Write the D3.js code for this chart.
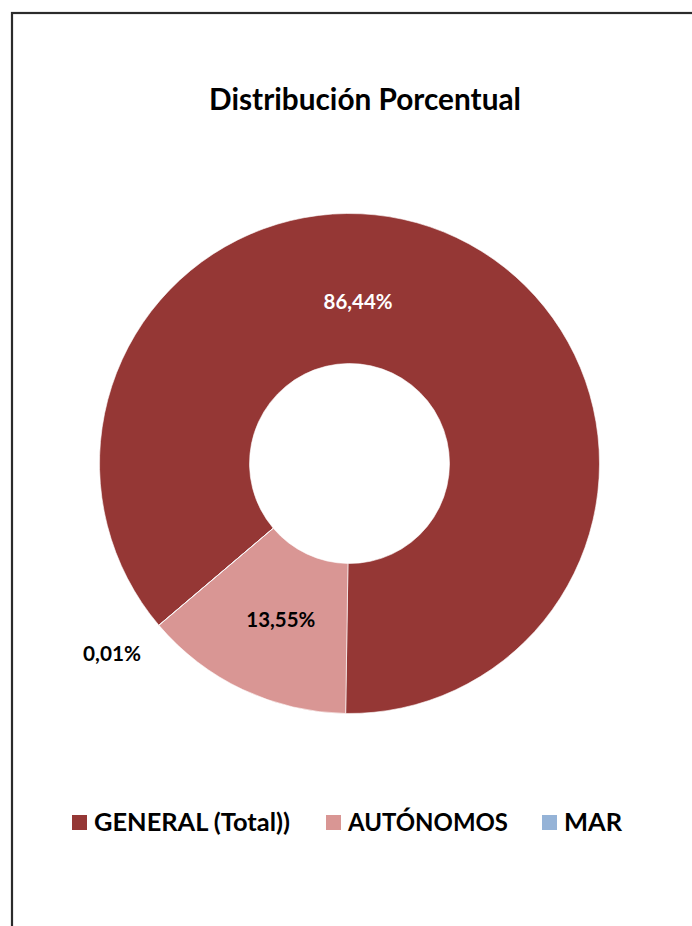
<!DOCTYPE html>
<html><head><meta charset="utf-8">
<script src="https://cdn.jsdelivr.net/npm/d3@7/dist/d3.min.js"></script>
<style>html,body{margin:0;padding:0;background:#fff;overflow:hidden}</style>
</head><body>
<svg id="chart" width="692" height="926"></svg>
<script>
const title = "Distribución Porcentual";
const categories = ["GENERAL (Total))", "AUTÓNOMOS", "MAR"];
const values = [86.44, 13.55, 0.01];
const valueLabels = ["86,44%", "13,55%", "0,01%"];
const colors = ["#953735", "#D99694", "#95B3D7"];

const FONT = "Lato, 'Open Sans', sans-serif";
const svg = d3.select("#chart");

function fit(sel, target) {
  const n = sel.node();
  const fs = parseFloat(sel.attr("font-size"));
  const w = n.getComputedTextLength();
  sel.attr("font-size", fs * target / w);
}

// frame
svg.append("rect").attr("x", 12).attr("y", 13).attr("width", 720).attr("height", 1000)
  .attr("fill", "#fff").attr("stroke", "#2b2b2b").attr("stroke-width", 2.2);

// title
const t = svg.append("text").attr("x", 365).attr("y", 110).attr("text-anchor", "middle")
  .attr("font-family", FONT).attr("font-weight", "bold").attr("font-size", 24)
  .attr("fill", "#000").text(title);
fit(t, 312);

// donut
const cx = 349.5, cy = 463.5, R = 250, r0 = 100;
const startDeg = 229.7;
const pie = d3.pie().sort(null).value(d => d)
  .startAngle(startDeg * Math.PI / 180).endAngle((startDeg + 360) * Math.PI / 180);
const arcs = pie(values);
const arc = d3.arc().innerRadius(r0).outerRadius(R);
const g = svg.append("g").attr("transform", `translate(${cx},${cy})`);
g.selectAll("path").data(arcs).enter().append("path")
  .attr("d", arc).attr("fill", (d, i) => colors[i])
  .attr("stroke", "#fff").attr("stroke-width", 0.6);

// data labels
const labelColors = ["#fff", "#000", "#000"];
const labelWidths = [69, 69, 58];
function labelPos(d, i) {
  if (i === 0) { // Excel shifts the big slice label toward the top
    const a = 3 * Math.PI / 180, rr = 162.5;
    return [rr * Math.sin(a), -rr * Math.cos(a)];
  }
  if (i === 2) { // tiny slice label placed outside
    const a = (d.startAngle + d.endAngle) / 2 + 1.7 * Math.PI / 180, rr = 304;
    return [rr * Math.sin(a), -rr * Math.cos(a)];
  }
  const c = d3.arc().innerRadius((r0 + R) / 2).outerRadius((r0 + R) / 2).centroid(d);
  return [c[0] + 6, c[1] - 3];
}
arcs.forEach((d, i) => {
  const p = labelPos(d, i);
  const tx = g.append("text").attr("x", p[0]).attr("y", p[1])
    .attr("text-anchor", "middle").attr("dominant-baseline", "central")
    .attr("font-family", FONT).attr("font-weight", "bold").attr("font-size", 18)
    .attr("fill", labelColors[i]).text(valueLabels[i]);
  fit(tx, labelWidths[i]);
});

// legend
const legendX = [72, 326, 542];
const legendTextW = [196, 160, 58];
const lg = svg.append("g");
categories.forEach((c, i) => {
  lg.append("rect").attr("x", legendX[i]).attr("y", 815).attr("width", 15).attr("height", 15)
    .attr("fill", colors[i]);
  const tx = lg.append("text").attr("x", legendX[i] + 22).attr("y", 831)
    .attr("font-family", FONT).attr("font-weight", "bold").attr("font-size", 22)
    .attr("fill", "#000").text(c);
  fit(tx, legendTextW[i]);
});
</script>
</body></html>
